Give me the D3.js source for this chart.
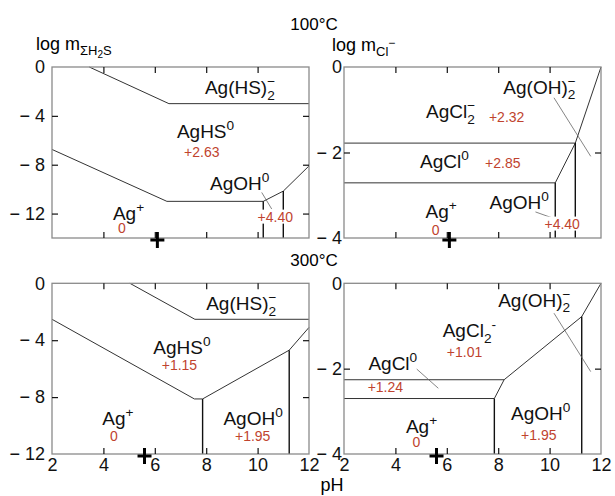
<!DOCTYPE html>
<html>
<head>
<meta charset="utf-8">
<script src="https://cdn.jsdelivr.net/npm/d3@7"></script>
<style>
  body { margin: 0; background: #fff; }
  text { font-family: "Liberation Sans", Arial, sans-serif; }
</style>
</head>
<body>
<div id="chart"></div>
<script>
// pH axis and tick values
const phTicks = [2, 4, 6, 8, 10, 12]
const sulfideTicks = [0, -4, -8, -12]
const chlorideTicks = [0, -2, -4]

// neutral pH (+ marker)
const neutralPh100 = 6.1
const neutralPh300 = 5.6

// 100°C, sulfide field boundaries
const hs100Upper = [[3.45, 0], [6.55, -3], [12, -3]]
const hs100Lower = [[2, -6.75], [6.47, -11], [10.22, -11], [11.0, -10.16], [12, -8.1]]
const hs100Verticals = [[10.22, -11], [11.0, -10.16]]
const hs100Leaders = [[[10.16, -10.27], [10.55, -11.63]]]
const hs100Labels = [
  { text: "Ag(HS)_{2}!{−}", x: 7.95, y: -2.2 },
  { text: "AgHS^{0}", x: 6.86, y: -5.8 },
  { text: "+2.63", x: 7.14, y: -7.4, red: true },
  { text: "AgOH^{0}", x: 8.15, y: -10.1 },
  { text: "+4.40", x: 10.0, y: -12.66, red: true, bg: true },
  { text: "Ag^{+}", x: 4.37, y: -12.5 },
  { text: "0", x: 4.57, y: -13.6, red: true }
]

// 100°C, chloride field boundaries
const cl100Lines = [
  [[2, -1.78], [11.0, -1.78]],
  [[2, -2.71], [10.22, -2.71]],
  [[10.22, -2.71], [11.0, -1.78], [12, 0]]
]
const cl100Verticals = [[10.22, -2.71], [11.0, -1.78]]
const cl100Leaders = [[[10.17, -0.72], [11.6, -2.09]], [[9.45, -3.39], [10.15, -3.54]]]
const cl100Labels = [
  { text: "Ag(OH)_{2}!{−}", x: 8.2, y: -0.62 },
  { text: "AgCl_{2}!{−}", x: 5.19, y: -1.2 },
  { text: "+2.32", x: 7.64, y: -1.28, red: true },
  { text: "AgCl^{0}", x: 4.96, y: -2.36 },
  { text: "+2.85", x: 7.49, y: -2.36, red: true },
  { text: "Ag^{+}", x: 5.17, y: -3.54 },
  { text: "0", x: 5.41, y: -3.93, red: true },
  { text: "AgOH^{0}", x: 7.66, y: -3.31 },
  { text: "+4.40", x: 9.8, y: -3.78, red: true, bg: true }
]

// 300°C, sulfide field boundaries
const hs300Upper = [[5.03, 0], [7.56, -2.53], [12, -2.53]]
const hs300Lower = [[2, -2.53], [7.54, -8.13], [7.86, -8.13], [11.23, -4.7], [12, -3.1]]
const hs300Verticals = [[7.86, -8.13], [11.23, -4.7]]
const hs300Labels = [
  { text: "Ag(HS)_{2}!{−}", x: 8.0, y: -1.88 },
  { text: "AgHS^{0}", x: 5.94, y: -4.98 },
  { text: "+1.15", x: 6.27, y: -6.1, red: true },
  { text: "Ag^{+}", x: 3.96, y: -9.98 },
  { text: "0", x: 4.26, y: -11.1, red: true },
  { text: "AgOH^{0}", x: 8.67, y: -9.98 },
  { text: "+1.95", x: 9.12, y: -11.1, red: true }
]

// 300°C, chloride field boundaries
const cl300Lines = [
  [[2, -2.26], [8.23, -2.26]],
  [[2, -2.7], [7.85, -2.7]],
  [[7.85, -2.7], [8.23, -2.26], [11.25, -0.78], [12, 0]]
]
const cl300Verticals = [[7.85, -2.7], [11.25, -0.78]]
const cl300Leaders = [[[10.17, -0.7], [11.6, -2.07]], [[4.83, -2.01], [5.67, -2.46]]]
const cl300Labels = [
  { text: "Ag(OH)_{2}!{−}", x: 8.0, y: -0.55 },
  { text: "AgCl_{2}^{-}", x: 5.84, y: -1.26 },
  { text: "+1.01", x: 6.0, y: -1.73, red: true },
  { text: "AgCl^{0}", x: 2.95, y: -2.03 },
  { text: "+1.24", x: 2.92, y: -2.54, red: true },
  { text: "Ag^{+}", x: 4.41, y: -3.51 },
  { text: "0", x: 4.67, y: -3.83, red: true },
  { text: "AgOH^{0}", x: 8.5, y: -3.2 },
  { text: "+1.95", x: 8.89, y: -3.67, red: true }
]

const RED = "#c0432e"

const svg = d3.select("#chart").append("svg")
  .attr("width", 615).attr("height", 496)

// species text with _{sub}, ^{sup} and !{sup stacked over the sub}
const richText = (g, x, y, str, size, fill) => {
  const t = g.append("text").attr("x", x).attr("y", y)
    .attr("font-size", size).attr("fill", fill)
  const re = /([_^!])\{([^}]*)\}|([^_^!]+)/g
  let m, shift = 0, lastSub = 0
  while ((m = re.exec(str)) !== null) {
    if (m[3]) {
      t.append("tspan").attr("dy", -shift).text(m[3])
      shift = 0
    } else if (m[1] === "_") {
      const off = size * 0.3
      t.append("tspan").attr("font-size", size * 0.72).attr("dy", off - shift).text(m[2])
      shift = off
      lastSub = size * 0.72 * 0.556 * m[2].length
    } else {
      const off = -size * 0.42
      const ts = t.append("tspan").attr("font-size", size * 0.72).attr("dy", off - shift).text(m[2])
      if (m[1] === "!") ts.attr("dx", -lastSub)
      shift = off
    }
  }
  return t
}

const drawPanel = cfg => {
  const g = svg.append("g")
  const x = d3.scaleLinear().domain([2, 12]).range([cfg.left, cfg.left + 257])
  const y = d3.scaleLinear().domain(cfg.yDomain).range([cfg.bottom, cfg.top])
  const line = d3.line().x(d => x(d[0])).y(d => y(d[1]))

  g.selectAll(".bound").data(cfg.lines).enter().append("path")
    .attr("d", line).attr("fill", "none")
    .attr("stroke", "#333").attr("stroke-width", 1)

  g.selectAll(".vert").data(cfg.verticals).enter().append("line")
    .attr("x1", d => x(d[0])).attr("x2", d => x(d[0]))
    .attr("y1", d => y(d[1])).attr("y2", y(cfg.yDomain[0]))
    .attr("stroke", "#111").attr("stroke-width", 1.4)

  g.selectAll(".leader").data(cfg.leaders).enter().append("path")
    .attr("d", line).attr("fill", "none")
    .attr("stroke", "#666").attr("stroke-width", 0.8)

  cfg.labels.forEach(d => {
    const t = richText(g, x(d.x), y(d.y), d.text, d.red ? 14 : 19, d.red ? RED : "#111")
    if (d.bg) {
      const b = t.node().getBBox()
      g.insert("rect", () => t.node())
        .attr("x", b.x - 1).attr("y", b.y + 1)
        .attr("width", b.width + 2).attr("height", b.height - 2)
        .attr("fill", "#fff")
    }
  })

  // frame
  g.append("rect")
    .attr("x", cfg.left).attr("y", cfg.top)
    .attr("width", 257).attr("height", cfg.bottom - cfg.top)
    .attr("fill", "none").attr("stroke", "#8a8a8a").attr("stroke-width", 1.3)

  const inner = phTicks.slice(1, -1)
  const innerY = cfg.yTicks.filter(v => v !== cfg.yDomain[1] && v !== cfg.yDomain[0])

  const axes = [
    [d3.axisTop(x).tickValues(inner).tickFormat(""), `translate(0,${cfg.top})`],
    [d3.axisBottom(x).tickValues(cfg.xLabels ? phTicks : inner)
      .tickFormat(cfg.xLabels ? d3.format("d") : ""), `translate(0,${cfg.bottom})`],
    [d3.axisLeft(y).tickValues(cfg.yTicks)
      .tickFormat(d => d === 0 ? "0" : "− " + Math.abs(d)), `translate(${cfg.left},0)`],
    [d3.axisRight(y).tickValues(innerY).tickFormat(""), `translate(${cfg.left + 257},0)`]
  ]
  axes.forEach(([ax, tr], i) => {
    const a = g.append("g").attr("transform", tr)
      .call(ax.tickSize(-6).tickPadding(i === 2 ? cfg.yPad : 4))
    a.select(".domain").remove()
    a.selectAll("line").attr("stroke", "#111").attr("stroke-width", 1.2)
      .filter(d => d === 2 || d === 12 || d === cfg.yDomain[0] || d === cfg.yDomain[1]).remove()
    a.selectAll("text").attr("font-size", 18).attr("fill", "#111")
      .attr("font-family", "'Liberation Sans', Arial, sans-serif")
  })

  // neutral pH marker
  const px = x(cfg.neutral), py = cfg.bottom + 2
  g.append("line").attr("x1", px - 7).attr("x2", px + 7).attr("y1", py).attr("y2", py)
    .attr("stroke", "#000").attr("stroke-width", 3)
  g.append("line").attr("x1", px).attr("x2", px).attr("y1", py - 8).attr("y2", py + 8)
    .attr("stroke", "#000").attr("stroke-width", 3)
}

drawPanel({ left: 52, top: 67, bottom: 238, yDomain: [-14, 0], yTicks: sulfideTicks, yPad: 7,
  lines: [hs100Upper, hs100Lower], verticals: hs100Verticals, leaders: hs100Leaders,
  labels: hs100Labels, neutral: neutralPh100, xLabels: false })
drawPanel({ left: 344, top: 67, bottom: 238, yDomain: [-4, 0], yTicks: chlorideTicks, yPad: 2,
  lines: cl100Lines, verticals: cl100Verticals, leaders: cl100Leaders,
  labels: cl100Labels, neutral: neutralPh100, xLabels: false })
drawPanel({ left: 52, top: 283.3, bottom: 454, yDomain: [-12, 0], yTicks: sulfideTicks, yPad: 7,
  lines: [hs300Upper, hs300Lower], verticals: hs300Verticals, leaders: [],
  labels: hs300Labels, neutral: neutralPh300, xLabels: true })
drawPanel({ left: 344, top: 283.3, bottom: 454, yDomain: [-4, 0], yTicks: chlorideTicks, yPad: 2,
  lines: cl300Lines, verticals: cl300Verticals, leaders: cl300Leaders,
  labels: cl300Labels, neutral: neutralPh300, xLabels: true })

// titles
svg.append("text").attr("x", 314).attr("y", 30).attr("text-anchor", "middle")
  .attr("font-size", 17).text("100°C")
svg.append("text").attr("x", 314).attr("y", 266).attr("text-anchor", "middle")
  .attr("font-size", 17).text("300°C")
svg.append("text").attr("x", 332).attr("y", 491).attr("text-anchor", "middle")
  .attr("font-size", 18).text("pH")

// y axis titles
const t1 = svg.append("text").attr("x", 36).attr("y", 50).attr("font-size", 18)
t1.append("tspan").text("log m")
t1.append("tspan").attr("font-size", 13).attr("dy", 5).text("ΣH")
t1.append("tspan").attr("font-size", 10).attr("dy", 3).text("2")
t1.append("tspan").attr("font-size", 13).attr("dy", -3).text("S")

const t2 = svg.append("text").attr("x", 332).attr("y", 51).attr("font-size", 18)
t2.append("tspan").text("log m")
t2.append("tspan").attr("font-size", 13).attr("dy", 5).text("Cl")
t2.append("tspan").attr("font-size", 12).attr("dy", -9).text("−")
</script>
</body>
</html>
